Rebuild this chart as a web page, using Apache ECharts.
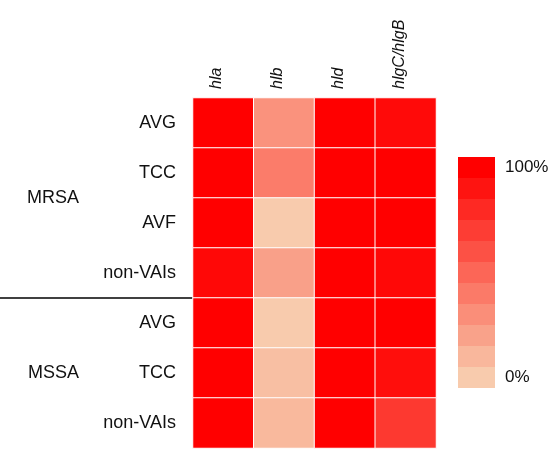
<!DOCTYPE html>
<html>
<head>
<meta charset="utf-8">
<script src="https://cdn.jsdelivr.net/npm/echarts@6/dist/echarts.min.js"></script>
<style>
html,body{margin:0;padding:0;background:#fff;}
#chart{width:550px;height:449px;}
</style>
</head>
<body>
<div id="chart"></div>
<script>
// ---- data ----
var genes = ['hla', 'hlb', 'hld', 'hlgC/hlgB'];
var groups = ['MRSA', 'MSSA'];
var rowKeys = ['MRSA|AVG', 'MRSA|TCC', 'MRSA|AVF', 'MRSA|non-VAIs', 'MSSA|AVG', 'MSSA|TCC', 'MSSA|non-VAIs'];
// percentage values per gene, in row order
var hlaValues  = [100, 100, 100, 96, 100, 100, 100];
var hlbValues  = [28, 39, 0, 21, 0, 6, 9];
var hldValues  = [100, 100, 100, 100, 100, 100, 100];
var hlgcValues = [95, 100, 100, 96, 100, 93, 72];
var legendLevels = [0, 10, 20, 30, 40, 50, 60, 70, 80, 90, 100];
var legendEndLabels = ['0%', '100%'];

// ---- build ----
var columns = [hlaValues, hlbValues, hldValues, hlgcValues];
var heatData = [];
columns.forEach(function (col, ci) {
  col.forEach(function (v, ri) { heatData.push([ci, ri, v]); });
});
var bandColors = ['#F8CBAD', '#F9B79C', '#F9A28A', '#FA8E79', '#FB7A68', '#FC6657',
                  '#FC5145', '#FD3D34', '#FE2923', '#FE1411', '#FF0000'];
var pieces = legendLevels.map(function (lv, i) {
  return { gte: lv - 5, lt: lv + 5, color: bandColors[i] };
});

var FONT = 'Liberation Sans, Arial, sans-serif';
var chart = echarts.init(document.getElementById('chart'), null, { renderer: 'canvas' });
chart.setOption({
  animation: false,
  backgroundColor: '#fff',
  grid: { left: 193, top: 98, width: 243, height: 350, containLabel: false },
  xAxis: {
    type: 'category',
    position: 'top',
    data: genes,
    axisLine: { show: false },
    axisTick: { show: false },
    splitLine: { show: false },
    axisLabel: {
      rotate: 90, margin: 9, fontStyle: 'italic', fontSize: 16,
      verticalAlign: 'bottom', lineHeight: 13,
      color: '#111', fontFamily: FONT
    }
  },
  yAxis: [{
    type: 'category',
    inverse: true,
    data: rowKeys,
    axisLine: { show: false },
    axisTick: { show: false },
    splitLine: { show: false },
    axisLabel: {
      margin: 17, fontSize: 18, color: '#111', fontFamily: FONT,
      formatter: function (v) { return v.split('|')[1]; }
    }
  }, {
    type: 'value',
    position: 'left',
    inverse: true,
    min: 0, max: 7,
    axisLine: { show: false },
    splitLine: { show: false },
    axisTick: {
      show: true, customValues: [4], length: 193,
      lineStyle: { color: '#000', width: 1.5 }
    },
    axisLabel: {
      show: true, customValues: [2, 5.5], margin: 114,
      fontSize: 18, color: '#111', fontFamily: FONT,
      formatter: function (v) { return v === 2 ? groups[0] : groups[1]; }
    }
  }],
  visualMap: [{
    type: 'continuous',
    show: false,
    seriesIndex: 0,
    min: 0, max: 100,
    inRange: { color: ['#F8CBAD', '#FF0000'] }
  }, {
    type: 'piecewise',
    seriesIndex: [],
    orient: 'vertical',
    align: 'left',
    left: 443, top: 142,
    itemWidth: 37, itemHeight: 21, itemGap: 0,
    itemSymbol: 'rect',
    textGap: 10,
    selectedMode: false,
    textStyle: { fontSize: 17, color: '#111', fontFamily: FONT },
    formatter: function (a, b) {
      if (a >= 95) return legendEndLabels[1];
      if (b <= 5) return legendEndLabels[0];
      return '';
    },
    pieces: pieces
  }],
  series: [{
    type: 'heatmap',
    xAxisIndex: 0,
    yAxisIndex: 0,
    data: heatData,
    itemStyle: { borderColor: '#fff', borderWidth: 1 },
    label: { show: false },
    emphasis: { disabled: true }
  }]
});
</script>
</body>
</html>
